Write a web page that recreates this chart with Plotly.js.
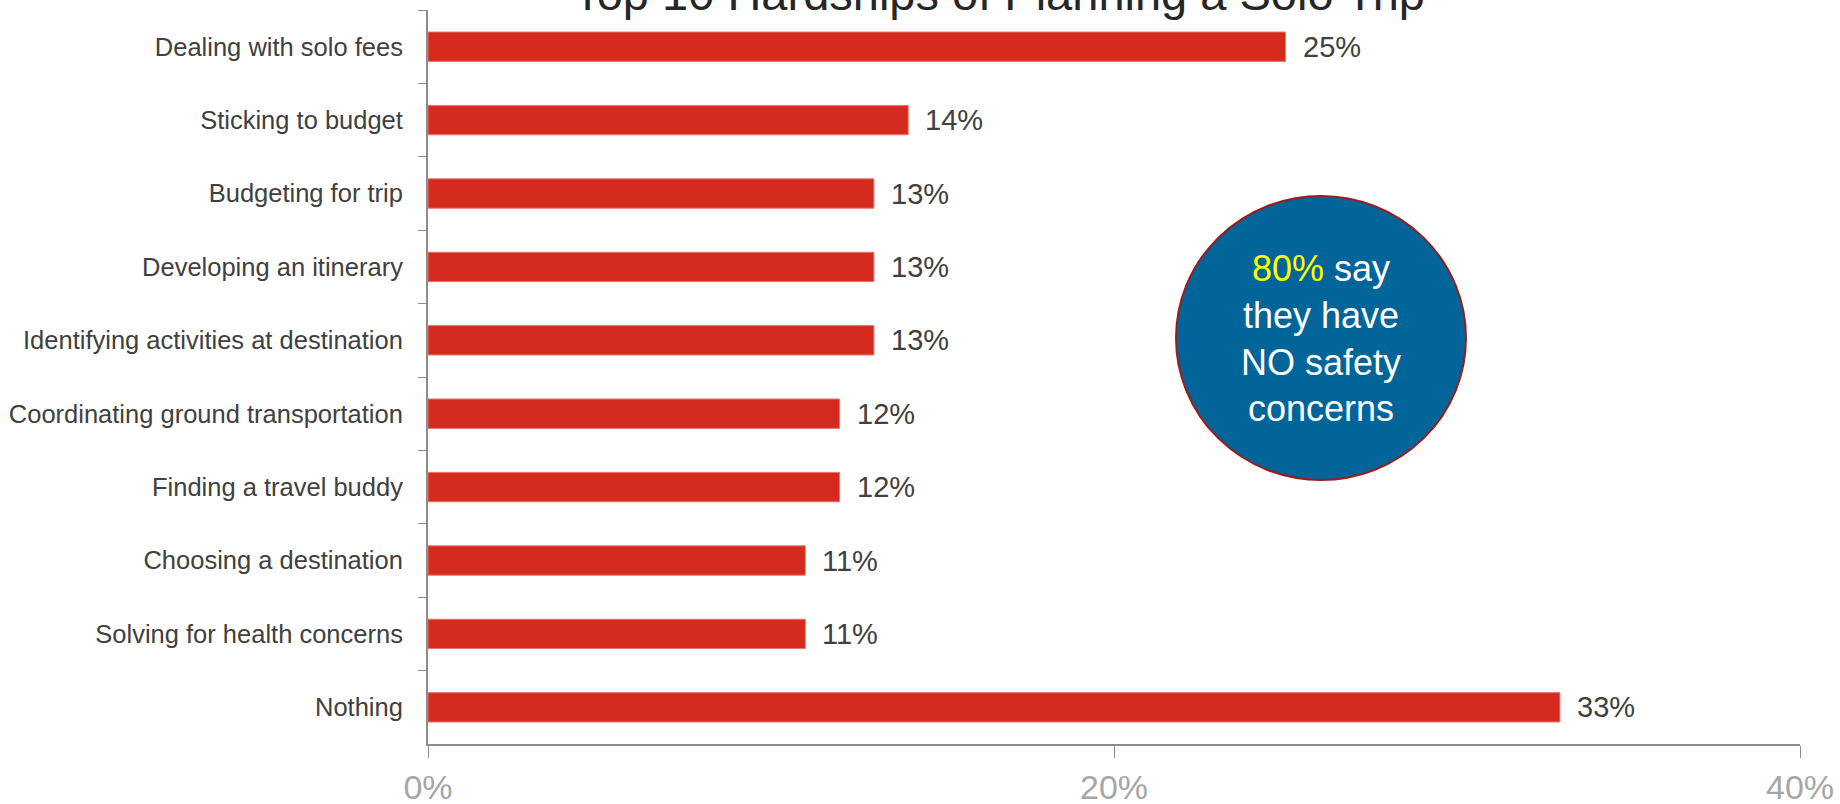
<!DOCTYPE html>
<html>
<head>
<meta charset="utf-8">
<script src="https://cdn.plot.ly/plotly-3.0.1.min.js"></script>
<style>html,body{margin:0;padding:0;background:#fff;}#chart{width:1840px;height:804px;}</style>
</head>
<body>
<div id="chart"></div>
<script>
const categories = [
  "Dealing with solo fees",
  "Sticking to budget",
  "Budgeting for trip",
  "Developing an itinerary",
  "Identifying activities at destination",
  "Coordinating ground transportation",
  "Finding a travel buddy",
  "Choosing a destination",
  "Solving for health concerns",
  "Nothing"
];
const values = [25, 14, 13, 13, 13, 12, 12, 11, 11, 33];
const xTickVals = [0, 20, 40];
const xTickText = ["0%", "20%", "40%"];
const titleText = "Top 10 Hardships of Planning a Solo Trip";
const calloutLines = ["<span style='color:#ffff00'>80%</span> say", "they have", "NO safety", "concerns"];

const FONT = "Liberation Sans, Arial, sans-serif";

const trace = {
  type: "bar",
  orientation: "h",
  y: categories,
  x: values,
  marker: {color: "#d52b1e", line: {color: "#e8776e", width: 1}},
  hoverinfo: "skip"
};

const labelAnns = categories.map((c, i) => ({
  x: values[i], y: c, xref: "x", yref: "y",
  text: values[i] + "%", showarrow: false,
  xanchor: "left", yanchor: "middle", xshift: 15,
  font: {family: FONT, size: 29, color: "#404040"}
}));

const layout = {
  width: 1840, height: 804,
  margin: {l: 428, r: 40, t: 10, b: 60},
  paper_bgcolor: "#ffffff", plot_bgcolor: "#ffffff",
  showlegend: false,
  bargap: 0.6,
  title: {
    text: titleText,
    font: {family: FONT, size: 47, color: "#262626"},
    x: 0.543, xanchor: "center",
    yref: "container", y: 0.988, yanchor: "bottom"
  },
  xaxis: {
    range: [0, 40],
    tickvals: xTickVals, ticktext: xTickText,
    ticks: "outside", ticklen: 12, tickwidth: 1, tickcolor: "#8c8c8c",
    showline: true, linecolor: "#8c8c8c", linewidth: 2,
    showgrid: false, zeroline: false,
    tickfont: {family: FONT, size: 34, color: "#a6a6a6"},
    fixedrange: true
  },
  yaxis: {
    autorange: "reversed",
    ticks: "outside", tickson: "boundaries", ticklen: 8, tickwidth: 1, tickcolor: "#8c8c8c",
    showline: true, linecolor: "#8c8c8c", linewidth: 2,
    showgrid: false, zeroline: false,
    tickfont: {family: FONT, size: 25.5, color: "#404040"},
    ticklabelstandoff: 18,
    fixedrange: true
  },
  shapes: [{
    type: "circle", xref: "paper", yref: "paper",
    x0: (1176 - 428) / 1372, x1: (1466 - 428) / 1372,
    y0: (744 - 480) / 734, y1: (744 - 196) / 734,
    fillcolor: "#026599", line: {color: "#9b1c1c", width: 2}
  }],
  annotations: labelAnns.concat([{
    xref: "paper", yref: "paper",
    x: (1321 - 428) / 1372, y: (744 - 338) / 734,
    xanchor: "center", yanchor: "middle",
    showarrow: false, align: "center",
    text: calloutLines.join("<br>"),
    font: {family: FONT, size: 36, color: "#ffffff"}
  }])
};

Plotly.newPlot("chart", [trace], layout, {displayModeBar: false, staticPlot: true});
</script>
</body>
</html>
